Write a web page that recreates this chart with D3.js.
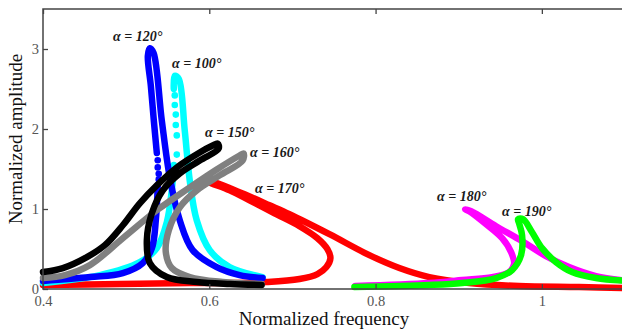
<!DOCTYPE html>
<html>
<head>
<meta charset="utf-8">
<script src="https://cdn.jsdelivr.net/npm/d3@7"></script>
<style>
  html, body { margin: 0; padding: 0; background: #fff; }
  svg { display: block; overflow: hidden; }
</style>
</head>
<body>
<div id="chart"></div>
<script>
// ---- data (normalized frequency, normalized amplitude) ----
// null = gap in the traced curve (jump region drawn as loose dots)
const curve100 = [[0.4,0.075],[0.4684,0.174],[0.5164,0.336],[0.5369,0.511],[0.5489,0.834],[0.5549,1.233],[0.5573,1.55],
  null,[0.5573,2.50],[0.5585,2.665],[0.5633,2.628],[0.5705,1.98],[0.5765,1.357],[0.5849,0.859],[0.6005,0.486],[0.6245,0.274],[0.6641,0.149]];
const dots100 = [[0.5585,2.42],[0.5585,2.30],[0.5597,2.18],[0.5597,2.05],[0.5609,1.92],[0.5609,1.68]];

const curve120 = [[0.4,0.10],[0.4564,0.149],[0.496,0.199],[0.520,0.324],[0.531,0.511],[0.5357,0.859],[0.538,1.30],
  null,[0.5369,1.70],[0.5333,2.105],[0.5297,2.54],[0.5261,2.914],[0.5285,3.01],[0.533,2.95],[0.5429,2.105],[0.5525,1.395],
  [0.5645,0.859],[0.580,0.486],[0.6089,0.274],[0.6365,0.174],[0.6641,0.137]];
const dots120 = [[0.538,1.61],[0.538,1.52],[0.5392,1.44],[0.5392,1.37]];

const curve150 = [[0.4,0.212],[0.424,0.262],[0.4528,0.399],[0.4744,0.548],[0.496,0.797],[0.5164,1.071],[0.5369,1.295],
  [0.5609,1.519],[0.5885,1.706],[0.6041,1.793],[0.6101,1.818],[0.6113,1.756],[0.5885,1.606],[0.5645,1.445],[0.5441,1.233],
  [0.5309,0.946],[0.5249,0.610],[0.5285,0.324],[0.5489,0.149],[0.5849,0.087],[0.6245,0.062],[0.6629,0.05]];

const curve160 = [[0.4,0.137],[0.4264,0.174],[0.4564,0.299],[0.496,0.635],[0.5369,0.984],[0.5765,1.270],[0.6089,1.494],
  [0.6365,1.669],[0.6413,1.694],[0.6401,1.606],[0.6125,1.420],[0.5849,1.233],[0.5645,1.021],[0.5513,0.735],[0.5477,0.461],
  [0.5549,0.262],[0.5765,0.149],[0.6161,0.087],[0.6629,0.062]];

const curve170 = [[0.4,0.050],[0.4924,0.062],[0.5765,0.075],[0.6245,0.075],[0.6689,0.087],[0.7085,0.125],[0.7301,0.187],
  [0.7409,0.274],[0.7457,0.386],[0.7421,0.498],[0.7301,0.635],[0.7085,0.785],[0.6785,0.946],[0.6485,1.108],[0.6245,1.233],
  [0.6029,1.320],[0.5945,1.357],[0.6065,1.333],[0.6425,1.183],[0.6725,1.046],[0.6965,0.934],[0.7445,0.685],[0.7925,0.423],
  [0.8286,0.262],[0.8646,0.149],[0.9126,0.075],[0.9726,0.037],[1.0447,0.025],[1.105,0.012]];

const curve180 = [[0.7757,0.037],[0.8646,0.075],[0.9042,0.112],[0.9402,0.149],[0.9606,0.212],[0.9666,0.311],[0.963,0.461],
  [0.9522,0.635],[0.933,0.809],[0.9126,0.971],[0.9078,0.996],[0.915,0.971],[0.945,0.785],[0.9762,0.598],[1.005,0.411],
  [1.0327,0.274],[1.065,0.162],[1.1047,0.100]];

const curve190 = [[0.7745,0.025],[0.8646,0.050],[0.9042,0.075],[0.945,0.137],[0.9642,0.237],[0.975,0.423],[0.9762,0.672],
  [0.9726,0.822],[0.9714,0.872],[0.9774,0.872],[0.9882,0.710],[1.0002,0.511],[1.017,0.336],[1.0363,0.212],[1.065,0.137],
  [1.1047,0.100]];

const xTicks = [0.4, 0.6, 0.8, 1];
const xTickLabels = ['0.4', '0.6', '0.8', '1'];
const yTicks = [0, 1, 2, 3];

// label text and anchor (data coords)
const labelText = ['α = 120°', 'α = 100°', 'α = 150°', 'α = 160°', 'α = 170°', 'α = 180°', 'α = 190°'];
const labelFreq = [0.4842, 0.5552, 0.5949, 0.649, 0.655, 0.8739, 0.952];
const labelAmp = [3.10, 2.764, 1.90, 1.65, 1.20, 1.10, 0.91];

// draw order matters a little (later on top)
const SERIES = [
  { pts: curve170, color: '#ff0000' },
  { pts: curve180, color: '#ff00ff' },
  { pts: curve190, color: '#00ff00' },
  { pts: curve100, color: '#00ffff', dots: dots100 },
  { pts: curve120, color: '#0000ff', dots: dots120 },
  { pts: curve160, color: '#808080' },
  { pts: curve150, color: '#000000' }
];

const W = 622, H = 329;
const plot = { left: 43, right: 625, top: 9, bottom: 289 };
const axisColor = '#444';
const serif = '"Liberation Serif", "Times New Roman", serif';

const svg = d3.select('#chart').append('svg')
  .attr('width', W)
  .attr('height', H);

svg.append('rect').attr('width', W).attr('height', H).attr('fill', '#fff');

const x = d3.scaleLinear().domain([0.4, 1.1]).range([plot.left, plot.right]);
const y = d3.scaleLinear().domain([0, 3.5]).range([plot.bottom, plot.top]);

// curves
const line = d3.line()
  .defined(d => d !== null)
  .x(d => x(d[0]))
  .y(d => y(d[1]))
  .curve(d3.curveCatmullRom.alpha(0.5));

const gCurves = svg.append('g');
SERIES.forEach(s => {
  gCurves.append('path')
    .datum(s.pts)
    .attr('d', line)
    .attr('fill', 'none')
    .attr('stroke', s.color)
    .attr('stroke-width', 6.5)
    .attr('stroke-linecap', 'round')
    .attr('stroke-linejoin', 'round');
  if (s.dots) {
    gCurves.selectAll(null)
      .data(s.dots)
      .enter().append('circle')
      .attr('cx', d => x(d[0]))
      .attr('cy', d => y(d[1]))
      .attr('r', 3.3)
      .attr('fill', s.color);
  }
});

// axes: MATLAB-style box, ticks pointing inwards
function styleAxis(g) {
  g.select('.domain').remove();
  g.selectAll('.tick line').attr('stroke', axisColor).attr('stroke-width', 1.3);
}

const xBottom = svg.append('g')
  .attr('transform', `translate(0,${plot.bottom})`)
  .call(d3.axisBottom(x).tickValues(xTicks).tickSize(-5).tickPadding(7)
    .tickFormat((d, i) => xTickLabels[i]));
styleAxis(xBottom);
xBottom.selectAll('.tick text')
  .attr('font-family', serif)
  .attr('font-size', 14.5)
  .attr('fill', '#555');

const xTop = svg.append('g')
  .attr('transform', `translate(0,${plot.top})`)
  .call(d3.axisTop(x).tickValues(xTicks).tickSize(-5).tickFormat(''));
styleAxis(xTop);

const yLeft = svg.append('g')
  .attr('transform', `translate(${plot.left},0)`)
  .call(d3.axisLeft(y).tickValues(yTicks).tickSize(-5).tickPadding(4).tickFormat(d3.format('d')));
styleAxis(yLeft);
yLeft.selectAll('.tick text')
  .attr('font-family', serif)
  .attr('font-size', 14.5)
  .attr('fill', '#555');

// frame (right side is outside the visible window)
svg.append('path')
  .attr('d', `M${plot.right},${plot.top}H${plot.left}V${plot.bottom}H${plot.right}`)
  .attr('stroke', axisColor)
  .attr('stroke-width', 1.5)
  .attr('fill', 'none');

// curve labels
svg.append('g').selectAll('text')
  .data(labelText)
  .enter().append('text')
  .attr('x', (d, i) => x(labelFreq[i]))
  .attr('y', (d, i) => y(labelAmp[i]))
  .attr('font-family', serif)
  .attr('font-size', 14)
  .attr('font-weight', 'bold')
  .attr('font-style', 'italic')
  .attr('fill', '#1a1a1a')
  .text(d => d);

// axis titles
svg.append('text')
  .attr('x', 324)
  .attr('y', 325)
  .attr('text-anchor', 'middle')
  .attr('font-family', serif)
  .attr('font-size', 19)
  .attr('fill', '#111')
  .text('Normalized frequency');

svg.append('text')
  .attr('transform', 'translate(22,139) rotate(-90)')
  .attr('text-anchor', 'middle')
  .attr('font-family', serif)
  .attr('font-size', 19)
  .attr('fill', '#111')
  .text('Normalized amplitude');
</script>
</body>
</html>
